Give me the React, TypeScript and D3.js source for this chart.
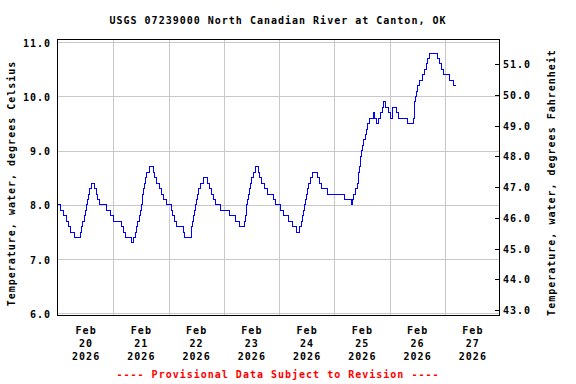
import React from "react";
import * as d3 from "d3";

// ---------- data ----------
const chartTitle = "USGS 07239000 North Canadian River at Canton, OK";
const footerText = "---- Provisional Data Subject to Revision ----";
const leftAxisTitle = "Temperature, water, degrees Celsius";
const rightAxisTitle = "Temperature, water, degrees Fahrenheit";
const monthLabel = "Feb";
const yearLabel = "2026";
const dayLabels = ["20", "21", "22", "23", "24", "25", "26", "27"];
const celsiusTicks = [6, 7, 8, 9, 10, 11];
const fahrenheitTicks = [43, 44, 45, 46, 47, 48, 49, 50, 51];

// [hours since Feb 20 00:00, water temperature °C] – value changes (step after)
const feb20: [number, number][] = [
  [0, 8.0], [1.2, 7.9], [2.3, 7.8], [3.5, 7.7], [4.7, 7.6], [5.5, 7.5], [7.1, 7.4],
  [9.8, 7.5], [10.3, 7.6], [10.8, 7.7], [11.3, 7.8], [11.9, 7.9], [12.4, 8.0],
  [12.8, 8.1], [13.3, 8.2], [13.9, 8.3], [14.4, 8.4], [16.0, 8.3], [16.7, 8.2],
  [17.3, 8.1], [18.2, 8.0], [21.1, 7.9], [22.6, 7.8],
];
const feb21: [number, number][] = [
  [24.2, 7.7], [27.4, 7.6], [28.5, 7.5], [29.2, 7.4], [31.8, 7.3], [32.9, 7.4],
  [33.5, 7.5], [34.0, 7.6], [34.6, 7.7], [35.3, 7.8], [35.8, 7.9], [36.1, 8.0],
  [36.5, 8.1], [36.9, 8.2], [37.2, 8.3], [37.6, 8.4], [38.0, 8.5], [38.4, 8.6],
  [39.7, 8.7], [41.4, 8.6], [42.0, 8.5], [43.0, 8.4], [44.0, 8.3], [45.0, 8.2],
  [46.0, 8.1], [47.3, 8.0],
];
const feb22: [number, number][] = [
  [49.2, 7.9], [49.8, 7.8], [50.6, 7.7], [51.3, 7.6], [54.3, 7.5], [55.1, 7.4],
  [57.8, 7.5], [58.2, 7.6], [58.6, 7.7], [59.0, 7.8], [59.4, 7.9], [59.8, 8.0],
  [60.2, 8.1], [60.6, 8.2], [61.1, 8.3], [61.9, 8.4], [63.4, 8.5], [65.0, 8.4],
  [65.8, 8.3], [66.6, 8.2], [67.4, 8.1], [68.5, 8.0], [70.5, 7.9],
];
const feb23: [number, number][] = [
  [74.3, 7.8], [77.0, 7.7], [78.8, 7.6], [80.8, 7.7], [81.3, 7.8], [81.7, 7.9],
  [82.0, 8.0], [82.4, 8.1], [82.8, 8.2], [83.2, 8.3], [83.6, 8.4], [84.2, 8.5],
  [84.9, 8.6], [85.9, 8.7], [86.9, 8.6], [87.6, 8.5], [88.4, 8.4], [89.5, 8.3],
  [91.2, 8.2], [93.6, 8.1], [94.6, 8.0],
];
const feb24: [number, number][] = [
  [96.8, 7.9], [98.1, 7.8], [100.2, 7.7], [101.8, 7.6], [103.4, 7.5], [105.0, 7.6],
  [105.6, 7.7], [106.2, 7.8], [106.6, 7.9], [106.9, 8.0], [107.3, 8.1], [107.8, 8.2],
  [108.3, 8.3], [108.8, 8.4], [109.5, 8.5], [110.4, 8.6], [112.9, 8.5], [113.6, 8.4],
  [114.4, 8.3], [117.2, 8.2],
];
const feb25: [number, number][] = [
  [124.3, 8.1], [127.5, 8.0], [128.0, 8.1], [128.5, 8.2], [129.3, 8.3], [130.0, 8.4],
  [130.4, 8.5], [130.7, 8.6], [131.0, 8.7], [131.3, 8.8], [131.6, 8.9], [132.0, 9.0],
  [132.4, 9.1], [132.8, 9.2], [133.4, 9.3], [134.0, 9.4], [134.6, 9.5], [135.3, 9.6],
  [137.0, 9.7], [137.5, 9.6], [138.4, 9.5], [139.2, 9.6], [140.2, 9.7], [140.8, 9.8],
  [141.6, 9.9], [142.3, 9.8], [143.6, 9.7], [144.4, 9.6], [145.2, 9.8], [147.2, 9.7],
  [147.8, 9.6], [151.8, 9.5],
];
const feb26: [number, number][] = [
  [154.3, 9.6], [154.7, 9.8], [155.0, 9.9], [155.3, 10.0], [155.6, 10.1], [156.0, 10.2],
  [157.0, 10.3], [158.4, 10.4], [159.4, 10.5], [160.1, 10.6], [160.7, 10.7], [161.2, 10.8],
  [165.0, 10.7], [165.9, 10.6], [166.7, 10.5], [167.6, 10.4], [170.2, 10.3], [171.6, 10.2],
];
const feb27: [number, number][] = [[172.8, 10.2]];

const readings = [...feb20, ...feb21, ...feb22, ...feb23, ...feb24, ...feb25, ...feb26, ...feb27];

// ---------- layout ----------
const W = 576;
const H = 384;
const frame = { left: 57.5, right: 499.5, top: 39.5, bottom: 315.8 };
const FONT = "'DejaVu Sans Mono', monospace";

const x = d3.scaleLinear().domain([0, 192]).range([58, 500]);
const yC = d3.scaleLinear().domain([6, 11]).range([313.3, 42.3]);
const yF = d3.scaleLinear().domain([43, 51]).range([310, 64.3]);
const crisp = (v: number) => Math.round(v) + 0.5;
const fmt = d3.format(".1f");

const line = d3
  .line<[number, number]>()
  .x((d) => x(d[0]))
  .y((d) => yC(d[1]))
  .curve(d3.curveStepAfter);

export default function App() {
  const dayGrid = d3.range(1, 8).map((d) => d * 24);
  const textStyle = { fontFamily: FONT, fontWeight: "bold" as const, fontSize: 10, letterSpacing: 1 };
  return (
    <svg
      width={W}
      height={H}
      viewBox={`0 0 ${W} ${H}`}
      style={{ position: "absolute", left: 0, top: 0, background: "#fff" }}
    >
      <rect x={0} y={0} width={W} height={H} fill="#fff" />
      {/* gridlines */}
      <g stroke="#c8c8c8" strokeWidth={1} shapeRendering="crispEdges">
        {celsiusTicks.map((t) => (
          <line key={"h" + t} x1={frame.left} x2={frame.right} y1={crisp(yC(t))} y2={crisp(yC(t))} />
        ))}
        {dayGrid.map((h) => (
          <line key={"v" + h} x1={crisp(x(h))} x2={crisp(x(h))} y1={frame.top} y2={frame.bottom} />
        ))}
      </g>
      {/* data */}
      <path
        d={line(readings) || ""}
        fill="none"
        stroke="#0000ff"
        strokeWidth={1}
        shapeRendering="crispEdges"
      />
      {/* frame */}
      <rect
        x={frame.left}
        y={frame.top}
        width={frame.right - frame.left}
        height={frame.bottom - frame.top}
        fill="none"
        stroke="#000"
        strokeWidth={1}
        shapeRendering="crispEdges"
      />
      {/* right ticks */}
      <g stroke="#000" shapeRendering="crispEdges">
        {fahrenheitTicks.map((t) => (
          <line key={"rt" + t} x1={495} x2={frame.right} y1={crisp(yF(t))} y2={crisp(yF(t))} />
        ))}
      </g>
      {/* title */}
      <text x={278} y={24} textAnchor="middle" style={textStyle} fill="#000">
        {chartTitle}
      </text>
      {/* left tick labels */}
      {celsiusTicks.map((t) => (
        <text key={"lc" + t} x={51} y={yC(t) + 4.5} textAnchor="end" style={textStyle} fill="#000">
          {fmt(t)}
        </text>
      ))}
      {/* right tick labels */}
      {fahrenheitTicks.map((t) => (
        <text key={"rf" + t} x={503} y={yF(t) + 4} textAnchor="start" style={textStyle} fill="#000">
          {fmt(t)}
        </text>
      ))}
      {/* x labels */}
      {dayLabels.map((d, i) => {
        const cx = x(i * 24 + 12) + 0.5;
        return (
          <g key={"xd" + d}>
            <text x={cx} y={334} textAnchor="middle" style={textStyle} fill="#000">{monthLabel}</text>
            <text x={cx} y={346.7} textAnchor="middle" style={textStyle} fill="#000">{d}</text>
            <text x={cx} y={360} textAnchor="middle" style={textStyle} fill="#000">{yearLabel}</text>
          </g>
        );
      })}
      {/* axis titles */}
      <text transform="translate(14.5,183.5) rotate(-90)" textAnchor="middle" style={textStyle} fill="#000">
        {leftAxisTitle}
      </text>
      <text transform="translate(554.5,182.5) rotate(-90)" textAnchor="middle" style={textStyle} fill="#000">
        {rightAxisTitle}
      </text>
      {/* footer */}
      <text x={278} y={378} textAnchor="middle" style={textStyle} fill="#ff0000">
        {footerText}
      </text>
    </svg>
  );
}
